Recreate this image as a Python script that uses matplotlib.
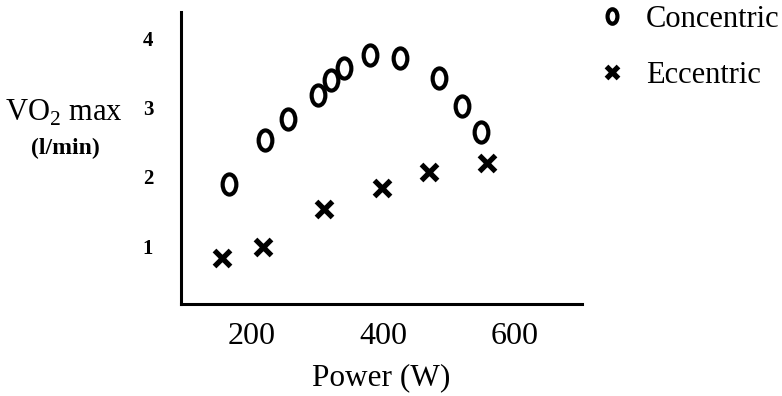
import matplotlib as mpl
mpl.use('Agg')
import matplotlib.pyplot as plt
from matplotlib.path import Path
from matplotlib.transforms import Affine2D

plt.rcParams['font.family'] = ['Liberation Serif', 'DejaVu Serif']
plt.rcParams['mathtext.fontset'] = 'custom'
plt.rcParams['mathtext.rm'] = 'Liberation Serif'

# Data
conc_power = [165, 220, 255, 300, 320, 340, 380, 425, 485, 520, 548]
conc_vo2 = [1.90, 2.54, 2.84, 3.19, 3.41, 3.58, 3.77, 3.73, 3.44, 3.03, 2.65]
ecc_power = [154, 217, 310, 398, 470, 557]
ecc_vo2 = [0.83, 0.99, 1.54, 1.84, 2.07, 2.20]
x_ticks = [200, 400, 600]
y_ticks = [1, 2, 3, 4]

# narrow oval, like a printed letter o
oval = Path.unit_circle().transformed(Affine2D().scale(0.68, 1.0))

fig = plt.figure(figsize=(7.82, 3.96), dpi=100)
ax = fig.add_axes([181/782, 1 - 304/396, (582 - 181)/782, (304 - 12)/396])
ax.set_xlim(92, 702)
ax.set_ylim(0.16, 4.39)

ax.plot(conc_power, conc_vo2, ls='none', marker=oval, ms=14.5, mfc='none',
        mec='black', mew=3.0, label='Concentric')
ax.plot(ecc_power, ecc_vo2, ls='none', marker='x', ms=11.5, mec='black',
        mew=3.8, label='Eccentric')

for s in ['top', 'right']:
    ax.spines[s].set_visible(False)
for s in ['left', 'bottom']:
    ax.spines[s].set_linewidth(2.2)

ax.set_xticks(x_ticks)
ax.set_yticks(y_ticks)
ax.tick_params(axis='x', length=0, pad=13, labelsize=23)
ax.tick_params(axis='y', length=0, pad=20)
for lab in ax.get_yticklabels():
    lab.set_fontsize(15)
    lab.set_fontweight('bold')

ax.set_xlabel('Power (W)', fontsize=22.5, labelpad=9)

fig.text(64/782, 1 - 113/396, r'VO$_2$ max', fontsize=22, ha='center', va='center')
fig.text(65/782, 1 - 148/396, '(l/min)', fontsize=17, fontweight='bold',
         ha='center', va='center')

ax.legend(loc='upper left', bbox_to_anchor=(597/782, 1 - 5/396),
          bbox_transform=fig.transFigure, frameon=False, fontsize=22,
          numpoints=1, handlelength=1.0, handletextpad=0.6,
          labelspacing=0.88, markerscale=0.72, borderpad=0, borderaxespad=0)

fig.savefig('out.png', dpi=100)
